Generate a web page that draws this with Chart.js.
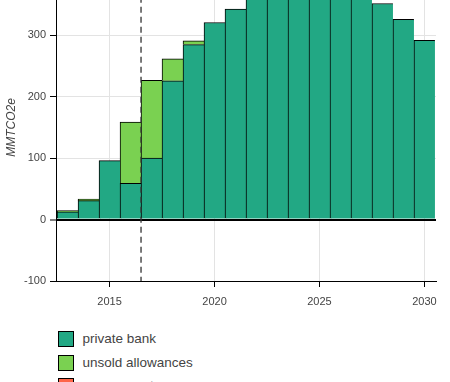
<!DOCTYPE html>
<html><head><meta charset="utf-8">
<script src="https://cdn.jsdelivr.net/npm/chart.js@4.4.0/dist/chart.umd.min.js"></script>
<style>
html,body{margin:0;padding:0;background:#fff;}
#wrap{position:relative;width:450px;height:382px;overflow:hidden;font-family:"Liberation Sans",Arial,sans-serif;}
#cv{position:absolute;left:0;top:-26px;width:450px;height:340px;}
#legend{position:absolute;left:58px;top:331px;}
.item{position:absolute;left:0;height:16px;white-space:nowrap;}
.sw{position:absolute;left:0;top:0;width:14px;height:14px;border:1px solid #000;}
.lb{position:absolute;left:24.5px;top:-1px;font-size:13.5px;line-height:18px;color:#444;}
</style></head>
<body><div id="wrap"><div id="cv"><canvas id="c"></canvas></div><div id="legend"></div></div>
<script>
const years = [2013,2014,2015,2016,2017,2018,2019,2020,2021,2022,2023,2024,2025,2026,2027,2028,2029,2030];
const privateBank = [12.5,31,96,59,100,226,285,321,343,365,378,385,386,380,368,352,326,292];
const unsoldAllowances = [2,2.5,0,100,127,36,6,0,0,0,0,0,0,0,0,0,0,0];
const governmentReserve = [0,0,0,0,0,0,0,0,0,0,0,0,0,0,0,0,0,0];
const seriesNames = ['private bank','unsold allowances','government reserve'];
const seriesColors = ['#22a884','#7ad151','#fe6548'];
const xTickYears = [2015,2020,2025,2030];
const markerYear = 2016.5;
const yTitle = 'MMTCO2e';

const dashPlugin = {
  id:'dash',
  afterDatasetsDraw(chart){
    const {ctx, chartArea, scales} = chart;
    const x = scales.x.getPixelForValue(markerYear);
    ctx.save();
    ctx.beginPath();
    ctx.rect(chartArea.left, chartArea.top, chartArea.right-chartArea.left, chartArea.bottom-chartArea.top);
    ctx.clip();
    ctx.strokeStyle = '#333';
    ctx.lineWidth = 1.3;
    ctx.setLineDash([6,4]);
    ctx.lineDashOffset = -2.7;
    ctx.beginPath();
    ctx.moveTo(x, chartArea.top);
    ctx.lineTo(x, chartArea.bottom);
    ctx.stroke();
    ctx.restore();
  }
};

const seriesData = [privateBank, unsoldAllowances, governmentReserve];
const chart = new Chart(document.getElementById('c'), {
  type:'bar',
  data:{
    labels: years,
    datasets: seriesData.map((d,i)=>({
      label: seriesNames[i], data: d, backgroundColor: seriesColors[i],
      borderColor:'#000', borderWidth:{top:1,left:1,right:0,bottom:0}, borderSkipped:false,
      categoryPercentage:1, barPercentage:1
    }))
  },
  options:{
    responsive:true, maintainAspectRatio:false, animation:false,
    layout:{padding:{left:0,right:14,top:0,bottom:0}},
    plugins:{legend:{display:false}, tooltip:{enabled:false}},
    scales:{
      x:{type:'linear', stacked:true, min:2012.45, max:2030.55, offset:false,
        grid:{offset:false, color:'#e3e3e3', tickColor:'#000', tickLength:6, tickWidth:1},
        border:{color:'#000', width:1},
        afterBuildTicks(s){ s.ticks = xTickYears.map(v=>({value:v})); },
        ticks:{padding:8, color:'#444', font:{size:11, family:'"Liberation Sans", Arial, sans-serif'}, callback:v=>String(v), maxRotation:0, autoSkip:false},
        afterFit(s){ s.height = 33; s.paddingLeft = 0; s.paddingRight = 0; }
      },
      y:{stacked:true, min:-100, max:400,
        grid:{color: c => (c.tick && c.tick.value===0) ? '#000' : '#e3e3e3',
              lineWidth: c => (c.tick && c.tick.value===0) ? 2 : 1,
              tickColor:'#000', tickLength:6, tickWidth:1},
        border:{color:'#000', width:1},
        ticks:{stepSize:100, padding:4, color:'#444', font:{size:11, family:'"Liberation Sans", Arial, sans-serif'}},
        title:{display:true, text:yTitle, color:'#444', font:{size:12, style:'italic', family:'"Liberation Sans", Arial, sans-serif'}, padding:{top:4,bottom:0}},
        afterFit(s){ s.width = 56; s.paddingTop = 0; s.paddingBottom = 0; }
      }
    }
  },
  plugins:[dashPlugin]
});

const leg = document.getElementById('legend');
chart.data.datasets.forEach((ds,i)=>{
  const it = document.createElement('div');
  it.className='item'; it.style.top = (i*23.5)+'px';
  const sw = document.createElement('div'); sw.className='sw'; sw.style.background = ds.backgroundColor;
  const lb = document.createElement('div'); lb.className='lb'; lb.textContent = ds.label;
  it.appendChild(sw); it.appendChild(lb); leg.appendChild(it);
});
</script>
</body></html>
